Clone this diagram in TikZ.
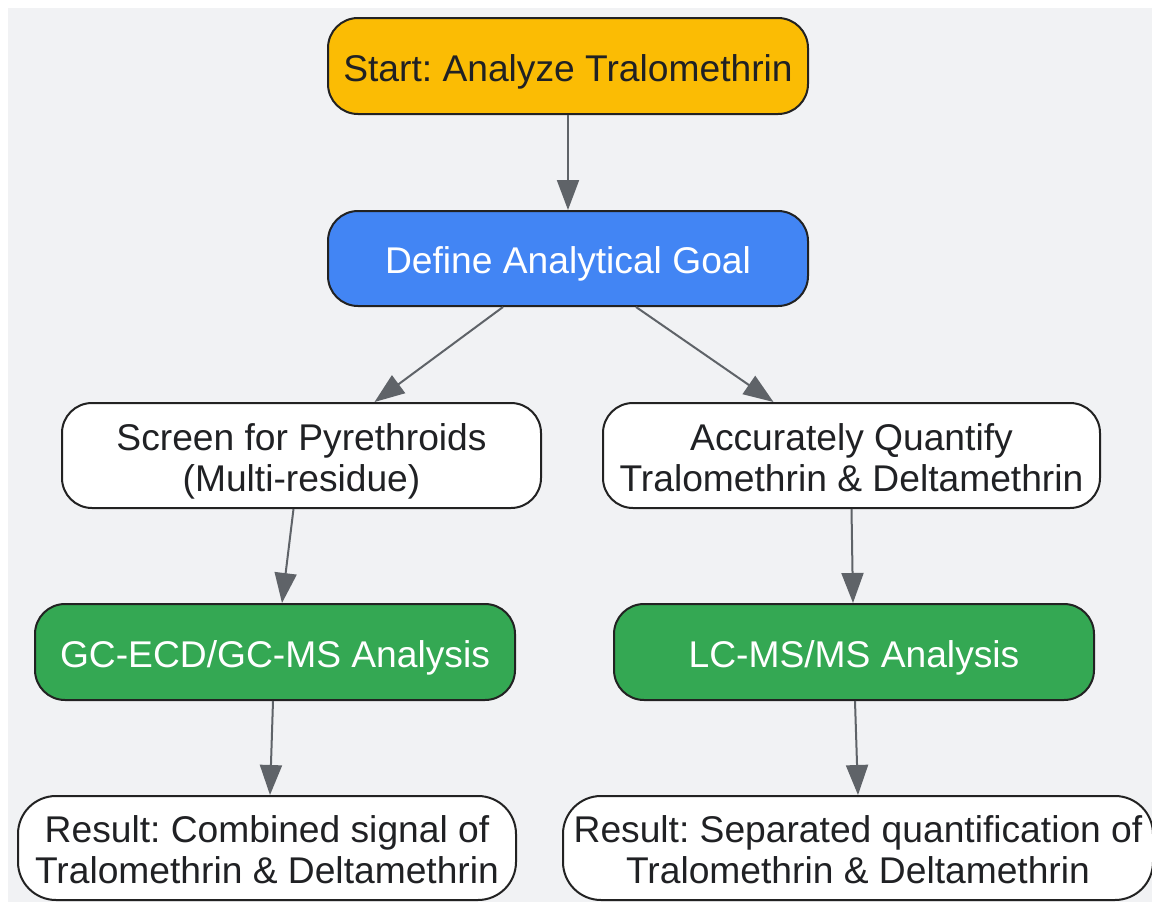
\documentclass[tikz,border=0pt]{standalone}
\usepackage{fontspec}
\setmainfont{Liberation Sans}
\usetikzlibrary{arrows.meta,calc}
\definecolor{bgc}{HTML}{F1F2F4}
\definecolor{edgec}{HTML}{5F6368}
\definecolor{bordc}{HTML}{222222}
\definecolor{yelc}{HTML}{FBBC04}
\definecolor{bluc}{HTML}{4285F4}
\definecolor{grnc}{HTML}{34A853}
\definecolor{txtc}{HTML}{202124}
\frenchspacing
\newsavebox\tbx
\newcommand\lowered[1]{\sbox\tbx{\begin{tabular}{@{}c@{}}#1\end{tabular}}\raisebox{-7pt}[\ht\tbx][\dp\tbx]{\usebox\tbx}}
\tikzset{
  box/.style={draw=bordc, line width=2pt, rounded corners=30pt, align=center,
    font=\fontsize{37.2}{41}\selectfont, text=txtc, inner sep=0pt},
  conn/.style={draw=edgec, line width=2pt, -{Triangle[length=30pt,width=22pt]}}
}
\begin{document}
\begin{tikzpicture}[x=1pt,y=-1pt]
\useasboundingbox (0,0) rectangle (1152,902);
\fill[bgc] (8,8) rectangle (1160,910);
\node[box, fill=yelc, minimum width=480pt, minimum height=96pt] (start) at (568,66) {\lowered{Start: Analyze Tralomethrin}};
\node[box, fill=bluc, text=white, minimum width=480pt, minimum height=95pt] (goal) at (568,258.5) {\lowered{Define Analytical Goal}};
\node[box, fill=white, minimum width=479pt, minimum height=105pt] (scr) at (301.5,455.5) {\lowered{Screen for Pyrethroids\\(Multi-residue)}};
\node[box, fill=white, minimum width=497pt, minimum height=105pt] (acc) at (851.5,455.5) {\lowered{Accurately Quantify\\Tralomethrin \& Deltamethrin}};
\node[box, fill=grnc, text=white, minimum width=480pt, minimum height=96pt] (gc) at (275,652) {\lowered{GC-ECD/GC-MS Analysis}};
\node[box, fill=grnc, text=white, minimum width=480pt, minimum height=96pt] (lc) at (854,652) {\lowered{LC-MS/MS Analysis}};
\node[box, fill=white, minimum width=498pt, minimum height=104pt, rounded corners=38pt] (resl) at (267,848) {\lowered{Result: Combined signal of\\Tralomethrin \& Deltamethrin}};
\node[box, fill=white, minimum width=590pt, minimum height=104pt, rounded corners=38pt] (resr) at (858,848) {\lowered{Result: Separated quantification of\\Tralomethrin \& Deltamethrin}};
\draw[conn] (start.south) -- (goal.north);
\draw[conn] ([xshift=-65pt]goal.south) -- ([xshift=73pt]scr.north);
\draw[conn] ([xshift=68pt]goal.south) -- ([xshift=-78pt]acc.north);
\draw[conn] ([xshift=-8pt]scr.south) -- ([xshift=7pt]gc.north);
\draw[conn] ([xshift=0pt]acc.south) -- ([xshift=-1pt]lc.north);
\draw[conn] ([xshift=-2pt]gc.south) -- ([xshift=3pt]resl.north);
\draw[conn] ([xshift=1pt]lc.south) -- ([xshift=0pt]resr.north);
\end{tikzpicture}
\end{document}
